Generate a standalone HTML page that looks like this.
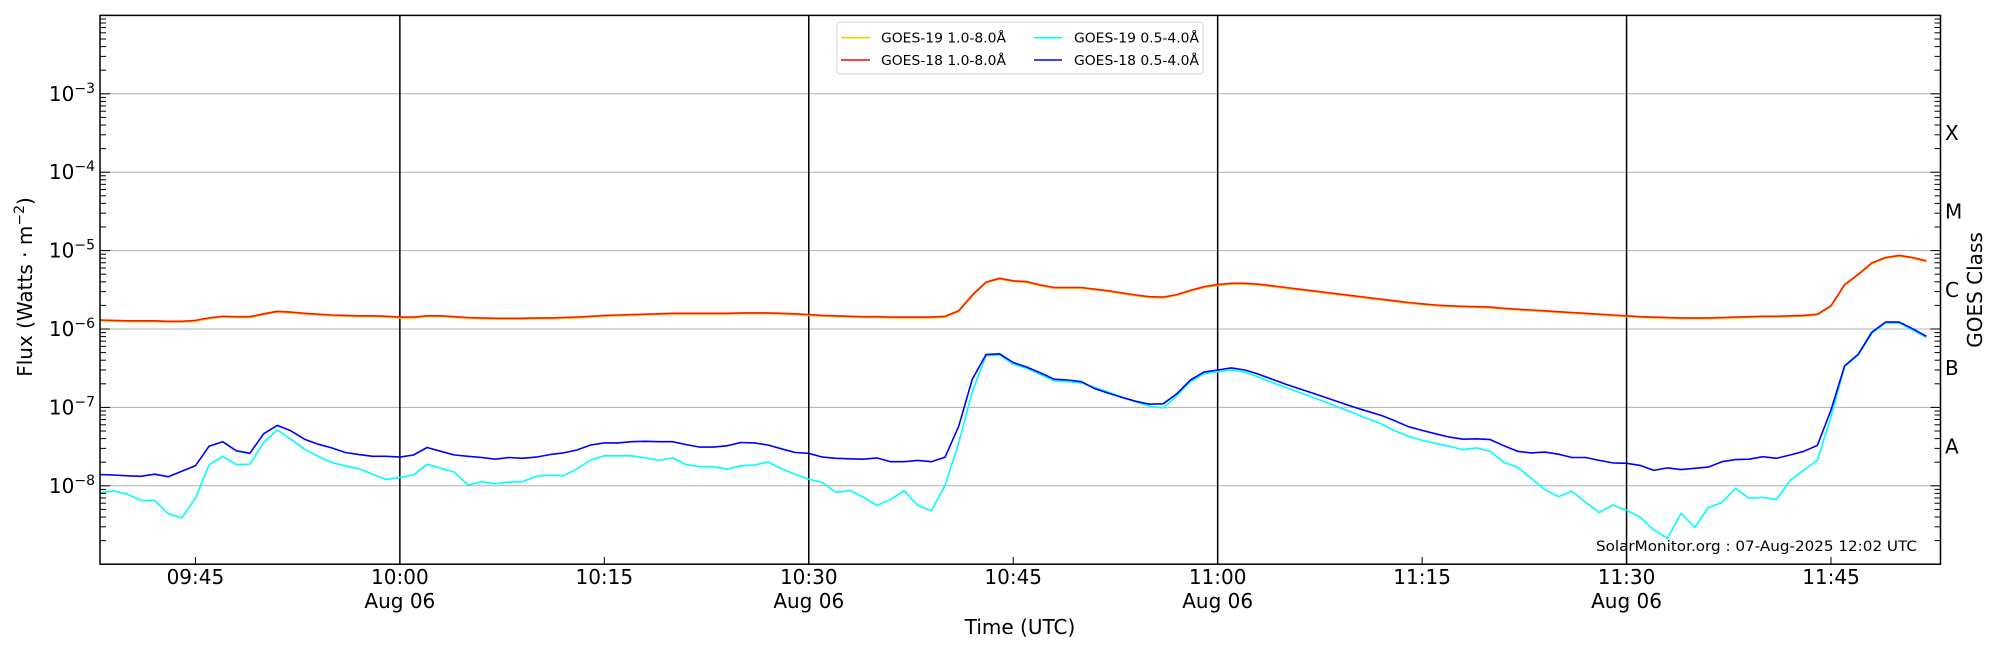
<!DOCTYPE html>
<html><head><meta charset="utf-8"><style>
html,body{margin:0;padding:0;background:#fff;width:2000px;height:650px;overflow:hidden}
svg{display:block;font-family:"DejaVu Sans","Liberation Sans",sans-serif}
</style></head><body>
<svg id="s" width="2000" height="650" xmlns="http://www.w3.org/2000/svg">
<rect width="2000" height="650" fill="#fff"/>
<g id="grid"></g>
<g id="data" fill="none" stroke-width="1.6" stroke-linejoin="round"></g>
<g id="ticks" stroke="#000" stroke-width="1"></g>
<rect x="100" y="15.4" width="1840.5" height="548.8" fill="none" stroke="#000" stroke-width="1.5"/>
<g id="labels" font-size="20" fill="#000"></g>
<!-- legend -->
<rect x="837" y="22" width="366" height="52" rx="3" fill="#fff" fill-opacity="0.85" stroke="#d0d0d0" stroke-width="1"/>
<line x1="841" y1="37.7" x2="870" y2="37.7" stroke="#ffcc00" stroke-width="1.6"/>
<line x1="841" y1="60" x2="870" y2="60" stroke="#ff0000" stroke-width="1.6"/>
<line x1="1034" y1="37.7" x2="1062" y2="37.7" stroke="#00ffff" stroke-width="1.6"/>
<line x1="1034" y1="60" x2="1062" y2="60" stroke="#0000ff" stroke-width="1.6"/>
<g font-size="13" fill="#000">
<text x="881" y="42.5" textLength="125" lengthAdjust="spacingAndGlyphs">GOES-19 1.0-8.0Å</text>
<text x="881" y="65" textLength="125" lengthAdjust="spacingAndGlyphs">GOES-18 1.0-8.0Å</text>
<text x="1074" y="42.5" textLength="125" lengthAdjust="spacingAndGlyphs">GOES-19 0.5-4.0Å</text>
<text x="1074" y="65" textLength="125" lengthAdjust="spacingAndGlyphs">GOES-18 0.5-4.0Å</text>
</g>
<text x="1596" y="551" font-size="14" textLength="321" lengthAdjust="spacingAndGlyphs">SolarMonitor.org : 07-Aug-2025 12:02 UTC</text>
</svg>
<script>
var NS="http://www.w3.org/2000/svg";
function el(p,t,a,txt){var e=document.createElementNS(NS,t);for(var k in a)e.setAttribute(k,a[k]);if(txt!==undefined)e.textContent=txt;document.getElementById(p).appendChild(e);return e;}
var X=function(m){return 100+m*13.63;};
var Y=function(L){return 15.4+(-2-L)*78.4;};
// grid
for(var d=-3;d>=-8;d--){var y=Y(d);el("grid","line",{x1:100,x2:1940.5,y1:y,y2:y,stroke:"#b0b0b0","stroke-width":1});}
[22,52,82,112].forEach(function(m){el("grid","line",{x1:X(m),x2:X(m),y1:15.4,y2:564.2,stroke:"#000","stroke-width":1.5});});
// y ticks
for(var d=-2;d>=-9;d--){
  var y=Y(d);
  if(d>-9){el("ticks","line",{x1:100,x2:110,y1:y,y2:y});el("ticks","line",{x1:1940.5,x2:1930.5,y1:y,y2:y});}
  if(d>-9)for(var k=2;k<=9;k++){var yy=Y(d-1+Math.log10(k));el("ticks","line",{x1:100,x2:106,y1:yy,y2:yy});el("ticks","line",{x1:1940.5,x2:1934.5,y1:yy,y2:yy});}
}
// x ticks
[7,37,67,97,127].forEach(function(m){el("ticks","line",{x1:X(m),x2:X(m),y1:564.2,y2:557});});
// y labels
for(var d=-3;d>=-8;d--){var y=Y(d);
 var t=el("labels","text",{x:95,y:y+7,"text-anchor":"end"});
 var a=document.createElementNS(NS,"tspan");a.textContent="10";t.appendChild(a);
 var b=document.createElementNS(NS,"tspan");b.setAttribute("dy","-8");b.setAttribute("font-size","14");b.textContent="\u2212"+(-d);t.appendChild(b);}
// x labels
var xl=[[7,"09:45",0],[22,"10:00",1],[37,"10:15",0],[52,"10:30",1],[67,"10:45",0],[82,"11:00",1],[97,"11:15",0],[112,"11:30",1],[127,"11:45",0]];
xl.forEach(function(q){el("labels","text",{x:X(q[0]),y:584,"text-anchor":"middle"},q[1]);if(q[2])el("labels","text",{x:X(q[0]),y:608,"text-anchor":"middle"},"Aug 06");});
el("labels","text",{x:1020,y:634,"text-anchor":"middle"},"Time (UTC)");
var fl=el("labels","text",{transform:"translate(32,287) rotate(-90)","text-anchor":"middle"});
fl.innerHTML='Flux (Watts · m<tspan dy="-8" font-size="14">\u22122</tspan><tspan dy="8">)</tspan>';
[["X",-3.5],["M",-4.5],["C",-5.5],["B",-6.5],["A",-7.5]].forEach(function(q){el("labels","text",{x:1945,y:Y(q[1])+7},q[0]);});
el("labels","text",{transform:"translate(1982,290) rotate(-90)","text-anchor":"middle"},"GOES Class");
// data (zoom coords, y/2.4 = real)
var red=[768,769,770,770,770,771,771,769,763,759,760,760,753,747,749,752,754,756,757,758,758,759,761,761,758,758,760,762,763,764,764,764,763,763,762,761,759,757,756,755,754,753,752,752,752,752,752,751,751,751,752,753,755,757,758,759,760,760,761,761,761,761,759,746,708,677,668,674,676,684,690,690,690,694,698,703,708,712,713,707,697,688,683,680,680,682,686,690,694,698,702,706,710,714,718,722,726,729,732,734,735,736,737,740,742,744,746,748,750,752,754,756,758,760,761,762,763,763,763,762,761,760,759,759,758,757,754,734,683,658,631,618,613,618,626];
var blue=[1139,1140,1142,1143,1138,1144,1131,1118,1071,1060,1082,1088,1041,1021,1034,1054,1066,1075,1086,1091,1095,1095,1097,1092,1074,1083,1092,1095,1098,1102,1098,1100,1097,1091,1087,1080,1068,1063,1063,1060,1059,1060,1060,1067,1073,1073,1070,1062,1063,1068,1077,1086,1088,1097,1100,1101,1102,1099,1108,1108,1105,1108,1097,1023,910,851,849,870,881,895,910,912,916,933,944,954,963,970,969,945,912,893,888,883,888,898,910,922,933,944,955,966,977,987,997,1010,1024,1033,1041,1049,1054,1053,1055,1070,1083,1087,1085,1090,1098,1098,1105,1111,1112,1117,1129,1123,1127,1124,1121,1108,1103,1102,1096,1100,1092,1083,1069,984,878,850,797,773,773,789,807];
var cyan=[1183,1178,1186,1201,1201,1233,1243,1196,1116,1095,1115,1114,1062,1032,1054,1078,1095,1110,1118,1125,1138,1151,1146,1140,1114,1124,1133,1164,1156,1161,1157,1156,1143,1140,1142,1125,1104,1094,1094,1094,1099,1105,1099,1115,1120,1120,1126,1118,1116,1109,1125,1138,1150,1158,1182,1177,1193,1213,1199,1178,1213,1226,1165,1063,940,854,852,874,884,899,914,916,919,930,941,953,964,975,979,950,916,897,892,888,893,905,918,930,942,954,966,979,992,1005,1017,1034,1047,1057,1064,1071,1079,1075,1083,1110,1121,1148,1175,1192,1179,1206,1230,1212,1225,1241,1272,1292,1232,1266,1218,1206,1172,1196,1194,1199,1153,1128,1105,1000,880,852,800,775,775,792,810];
function path(arr,col,dy){var d="";arr.forEach(function(v,i){d+=(i?"L":"M")+X(i).toFixed(1)+","+(v/2.4+dy).toFixed(1);});el("data","path",{d:d,stroke:col});}
path(red,"#ffcc00",0.8);
path(red,"#ff1a00",0);
path(cyan,"#00ffff",0);
path(blue,"#0000ff",0);
</script>
</body></html>
